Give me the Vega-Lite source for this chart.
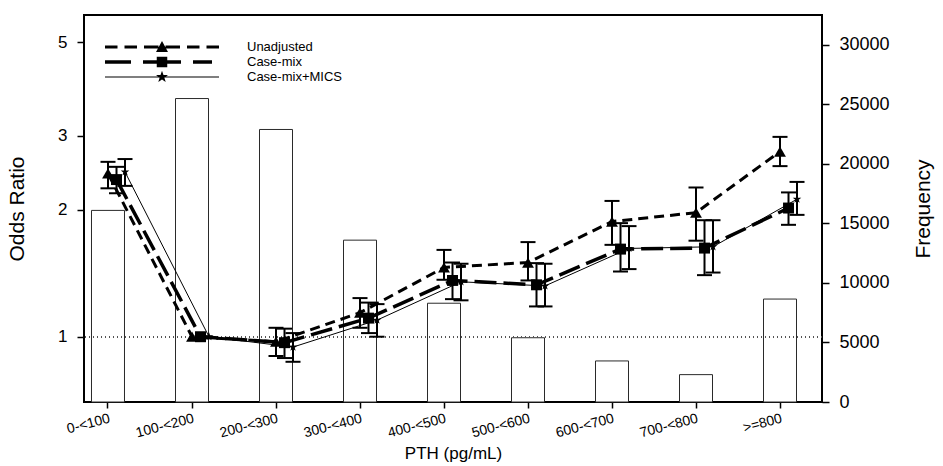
{
  "$schema": "https://vega.github.io/schema/vega-lite/v6.json",
  "width": 738,
  "height": 387,
  "autosize": {"type": "none"},
  "padding": {"left": 84, "top": 15, "right": 121, "bottom": 64},
  "config": {
    "font": "Liberation Sans",
    "view": {"stroke": "black", "strokeWidth": 2},
    "axis": {"grid": false, "domain": false, "titleFontWeight": "normal", "labelColor": "black", "titleColor": "black", "tickColor": "black", "tickWidth": 1.5}
  },
  "datasets": {
    "freq": [
      {"pth": "0-<100", "freq": 16100},
      {"pth": "100-<200", "freq": 25500},
      {"pth": "200-<300", "freq": 22900},
      {"pth": "300-<400", "freq": 13600},
      {"pth": "400-<500", "freq": 8300},
      {"pth": "500-<600", "freq": 5400},
      {"pth": "600-<700", "freq": 3450},
      {"pth": "700-<800", "freq": 2300},
      {"pth": ">=800", "freq": 8650}
    ],
    "or": [
      {"pth": "0-<100", "idx": 0, "series": "Unadjusted", "or": 2.44, "lo": 2.25, "hi": 2.60},
      {"pth": "100-<200", "idx": 1, "series": "Unadjusted", "or": 1.0, "lo": null, "hi": null},
      {"pth": "200-<300", "idx": 2, "series": "Unadjusted", "or": 0.973, "lo": 0.90, "hi": 1.05},
      {"pth": "300-<400", "idx": 3, "series": "Unadjusted", "or": 1.14, "lo": 1.05, "hi": 1.235},
      {"pth": "400-<500", "idx": 4, "series": "Unadjusted", "or": 1.46, "lo": 1.365, "hi": 1.607},
      {"pth": "500-<600", "idx": 5, "series": "Unadjusted", "or": 1.50, "lo": 1.36, "hi": 1.677},
      {"pth": "600-<700", "idx": 6, "series": "Unadjusted", "or": 1.876, "lo": 1.652, "hi": 2.10},
      {"pth": "700-<800", "idx": 7, "series": "Unadjusted", "or": 1.97, "lo": 1.69, "hi": 2.26},
      {"pth": ">=800", "idx": 8, "series": "Unadjusted", "or": 2.75, "lo": 2.54, "hi": 2.98},
      {"pth": "0-<100", "idx": 0, "series": "Case-mix", "or": 2.36, "lo": 2.19, "hi": 2.53},
      {"pth": "100-<200", "idx": 1, "series": "Case-mix", "or": 1.0, "lo": null, "hi": null},
      {"pth": "200-<300", "idx": 2, "series": "Case-mix", "or": 0.968, "lo": 0.89, "hi": 1.045},
      {"pth": "300-<400", "idx": 3, "series": "Case-mix", "or": 1.107, "lo": 1.02, "hi": 1.205},
      {"pth": "400-<500", "idx": 4, "series": "Case-mix", "or": 1.36, "lo": 1.228, "hi": 1.50},
      {"pth": "500-<600", "idx": 5, "series": "Case-mix", "or": 1.328, "lo": 1.18, "hi": 1.495},
      {"pth": "600-<700", "idx": 6, "series": "Case-mix", "or": 1.614, "lo": 1.428, "hi": 1.86},
      {"pth": "700-<800", "idx": 7, "series": "Case-mix", "or": 1.623, "lo": 1.40, "hi": 1.89},
      {"pth": ">=800", "idx": 8, "series": "Case-mix", "or": 2.02, "lo": 1.843, "hi": 2.20},
      {"pth": "0-<100", "idx": 0, "series": "Case-mix+MICS", "or": 2.46, "lo": 2.28, "hi": 2.64},
      {"pth": "100-<200", "idx": 1, "series": "Case-mix+MICS", "or": 1.0, "lo": null, "hi": null},
      {"pth": "200-<300", "idx": 2, "series": "Case-mix+MICS", "or": 0.945, "lo": 0.872, "hi": 1.02},
      {"pth": "300-<400", "idx": 3, "series": "Case-mix+MICS", "or": 1.095, "lo": 1.0, "hi": 1.195},
      {"pth": "400-<500", "idx": 4, "series": "Case-mix+MICS", "or": 1.35, "lo": 1.22, "hi": 1.49},
      {"pth": "500-<600", "idx": 5, "series": "Case-mix+MICS", "or": 1.32, "lo": 1.18, "hi": 1.49},
      {"pth": "600-<700", "idx": 6, "series": "Case-mix+MICS", "or": 1.62, "lo": 1.447, "hi": 1.83},
      {"pth": "700-<800", "idx": 7, "series": "Case-mix+MICS", "or": 1.635, "lo": 1.42, "hi": 1.89},
      {"pth": ">=800", "idx": 8, "series": "Case-mix+MICS", "or": 2.12, "lo": 1.946, "hi": 2.33}
    ]
  },
  "layer": [
    {
      "data": {"name": "freq"},
      "mark": {"type": "bar", "fill": "white", "stroke": "#2a2a2a", "strokeWidth": 1, "width": 33},
      "encoding": {
        "x": {
          "field": "pth", "type": "ordinal",
          "scale": {"type": "band", "domain": ["0-<100", "100-<200", "200-<300", "300-<400", "400-<500", "500-<600", "600-<700", "700-<800", ">=800"], "paddingInner": 0.4286, "paddingOuter": 0.1071, "align": 0},
          "axis": {"title": "PTH (pg/mL)", "labelAngle": -15, "labelAlign": "right", "labelBaseline": "top", "labelFontSize": 14, "labelPadding": 3, "tickSize": 6, "titleFontSize": 17, "titlePadding": 6}
        },
        "y": {
          "field": "freq", "type": "quantitative",
          "scale": {"domain": [0, 32520], "nice": false, "zero": true},
          "axis": {"orient": "right", "values": [0, 5000, 10000, 15000, 20000, 25000, 30000], "format": "d", "title": "Frequency", "titleAngle": 270, "labelFontSize": 18, "labelPadding": 10, "tickSize": 7, "titleFontSize": 21, "titlePadding": 44}
        }
      }
    },
    {
      "data": {"name": "or"},
      "layer": [
        {
          "mark": {"type": "rule", "stroke": "#555", "strokeDash": [1, 3], "strokeWidth": 1},
          "encoding": {
            "y": {"datum": 1, "type": "quantitative", "scale": {"type": "log", "domain": [0.70, 5.8], "nice": false}, "title": "Odds Ratio"}
          }
        },
        {
          "transform": [{"filter": "datum.series === 'Unadjusted'"}],
          "mark": {"type": "line", "color": "black", "strokeWidth": 3, "strokeDash": [10, 6]},
          "encoding": {
            "x": {"field": "pth", "type": "ordinal"},
            "xOffset": {"field": "series", "type": "nominal", "scale": {"type": "point", "domain": ["Unadjusted", "Case-mix", "Case-mix+MICS"], "range": [24, 41], "padding": 0}},
            "y": {"field": "or", "type": "quantitative", "scale": {"type": "log", "domain": [0.70, 5.8], "nice": false},
              "axis": {"orient": "left", "values": [1, 2, 3, 5], "format": "d", "title": "Odds Ratio", "labelFontSize": 17, "labelPadding": 10, "tickSize": 7, "titleFontSize": 21, "titlePadding": 30}},
            "order": {"field": "idx"}
          }
        },
        {
          "transform": [{"filter": "datum.series === 'Case-mix'"}],
          "mark": {"type": "line", "color": "black", "strokeWidth": 3.5, "strokeDash": [22, 7]},
          "encoding": {
            "x": {"field": "pth", "type": "ordinal"},
            "xOffset": {"field": "series", "type": "nominal"},
            "y": {"field": "or", "type": "quantitative", "title": "Odds Ratio"},
            "order": {"field": "idx"}
          }
        },
        {
          "transform": [{"filter": "datum.series === 'Case-mix+MICS'"}],
          "mark": {"type": "line", "color": "black", "strokeWidth": 1},
          "encoding": {
            "x": {"field": "pth", "type": "ordinal"},
            "xOffset": {"field": "series", "type": "nominal"},
            "y": {"field": "or", "type": "quantitative", "title": "Odds Ratio"},
            "order": {"field": "idx"}
          }
        },
        {
          "mark": {"type": "rule", "color": "black", "strokeWidth": 2},
          "encoding": {
            "x": {"field": "pth", "type": "ordinal"},
            "xOffset": {"field": "series", "type": "nominal"},
            "y": {"field": "lo", "type": "quantitative", "title": "Odds Ratio"},
            "y2": {"field": "hi"}
          }
        },
        {
          "mark": {"type": "point", "shape": "stroke", "size": 225, "stroke": "black", "strokeWidth": 2, "filled": false, "opacity": 1},
          "encoding": {
            "x": {"field": "pth", "type": "ordinal"},
            "xOffset": {"field": "series", "type": "nominal"},
            "y": {"field": "lo", "type": "quantitative", "title": "Odds Ratio"}
          }
        },
        {
          "mark": {"type": "point", "shape": "stroke", "size": 225, "stroke": "black", "strokeWidth": 2, "filled": false, "opacity": 1},
          "encoding": {
            "x": {"field": "pth", "type": "ordinal"},
            "xOffset": {"field": "series", "type": "nominal"},
            "y": {"field": "hi", "type": "quantitative", "title": "Odds Ratio"}
          }
        },
        {
          "mark": {"type": "point", "filled": true, "color": "black", "opacity": 1, "strokeWidth": 0},
          "encoding": {
            "x": {"field": "pth", "type": "ordinal"},
            "xOffset": {"field": "series", "type": "nominal"},
            "y": {"field": "or", "type": "quantitative", "title": "Odds Ratio"},
            "shape": {"field": "series", "type": "nominal", "scale": {"domain": ["Unadjusted", "Case-mix", "Case-mix+MICS"], "range": ["triangle-up", "square", "M0,-0.9L0.212,-0.291L0.856,-0.278L0.342,0.111L0.529,0.728L0,0.36L-0.529,0.728L-0.342,0.111L-0.856,-0.278L-0.212,-0.291Z"]}, "legend": null},
            "size": {"field": "series", "type": "nominal", "scale": {"domain": ["Unadjusted", "Case-mix", "Case-mix+MICS"], "range": [140, 100, 200]}, "legend": null}
          }
        },
        {
          "transform": [{"filter": "datum.idx < 0"}],
          "mark": {"type": "point", "filled": true, "color": "black", "opacity": 1, "strokeWidth": 0, "size": 196},
          "encoding": {
            "shape": {
              "field": "series", "type": "nominal",
              "scale": {"domain": ["Unadjusted", "Case-mix", "Case-mix+MICS"], "range": [
                "M-8.143,-0.214H-6.357V0.214H-8.143Z M-5.357,-0.214H-3.571V0.214H-5.357Z M-2.571,-0.214H-0.5V0.214H-2.571Z M0.5,-0.214H2.571V0.214H0.5Z M3.571,-0.214H5.357V0.214H3.571Z M6.357,-0.214H8.143V0.214H6.357Z M0,-0.857L0.857,0.714L-0.857,0.714Z",
                "M-8.143,-0.25H-4.429V0.25H-8.143Z M-2.714,-0.25H-0.571V0.25H-2.714Z M0.571,-0.25H2.714V0.25H0.571Z M4.429,-0.25H7.143V0.25H4.429Z M-0.75,-0.75H0.75V0.75H-0.75Z",
                "M-8.143,-0.071H8.143V0.071H-8.143Z M0,-0.9L0.212,-0.291L0.856,-0.278L0.342,0.111L0.529,0.728L0,0.36L-0.529,0.728L-0.342,0.111L-0.856,-0.278L-0.212,-0.291Z"
              ]},
              "legend": {"orient": "none", "legendX": 71, "legendY": 25, "title": null, "symbolSize": 196, "symbolStrokeWidth": 0, "symbolFillColor": "black", "symbolOpacity": 1, "labelOffset": 78, "labelFontSize": 13, "labelLimit": 0, "rowPadding": 1, "padding": 0}
            }
          }
        }
      ],
      "resolve": {"scale": {"shape": "independent"}, "legend": {"shape": "independent"}}
    }
  ],
  "resolve": {"scale": {"y": "independent"}}
}
